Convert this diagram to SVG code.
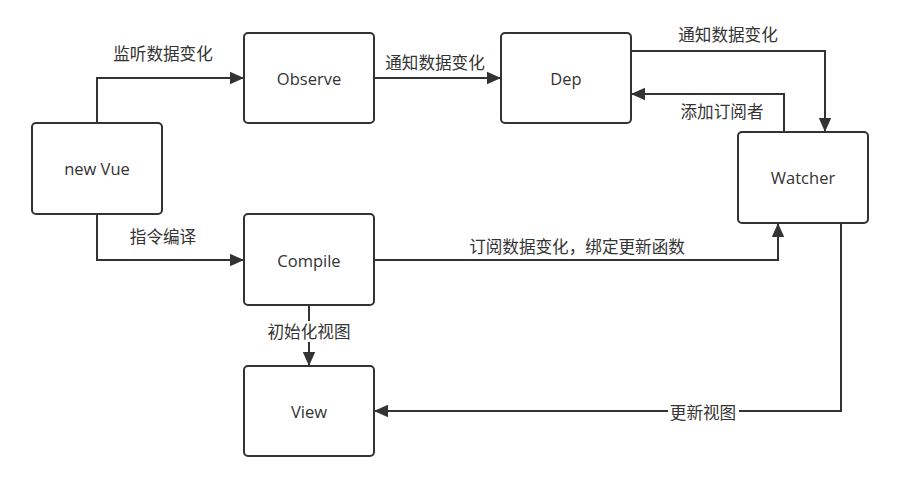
<svg xmlns="http://www.w3.org/2000/svg" width="901" height="490" viewBox="0 0 901 490">
<style>
.node rect{fill:#fff;stroke:#333;stroke-width:2}
.node text{font-family:"Open Sans","Noto Sans","Noto Sans CJK SC",sans-serif;font-size:16.5px;fill:#333;text-anchor:middle;dominant-baseline:central}
.edge{fill:none;stroke:#333;stroke-width:2}
.lbl{font-family:"Noto Sans CJK SC","Noto Sans",sans-serif;font-size:16.6px;fill:#333;text-anchor:middle;dominant-baseline:central}
.bg{fill:#fff}
</style>
<defs>
<marker id="arr" markerUnits="userSpaceOnUse" markerWidth="16" markerHeight="14" refX="14" refY="7" orient="auto">
<path d="M0,0.8 L14,7 L0,13.2 Z" fill="#333"/>
</marker>
</defs>
<rect width="901" height="490" fill="#fff"/>
<g id="connectors">
<path class="edge" d="M97,123 V78 H244" marker-end="url(#arr)"/>
<path class="edge" d="M97,214 V260 H244" marker-end="url(#arr)"/>
<path class="edge" d="M374,78 H501" marker-end="url(#arr)"/>
<path class="edge" d="M631,51 H825 V132" marker-end="url(#arr)"/>
<path class="edge" d="M784,132 V94 H631" marker-end="url(#arr)"/>
<path class="edge" d="M374,260 H778 V223" marker-end="url(#arr)"/>
<path class="edge" d="M309,305 V366" marker-end="url(#arr)"/>
<path class="edge" d="M841,223 V411 H374" marker-end="url(#arr)"/>
<text class="lbl" x="163" y="53">监听数据变化</text>
<text class="lbl" x="163" y="236">指令编译</text>
<text class="lbl" x="435" y="62">通知数据变化</text>
<text class="lbl" x="728" y="34">通知数据变化</text>
<text class="lbl" x="722" y="111">添加订阅者</text>
<text class="lbl" x="577" y="246">订阅数据变化，绑定更新函数</text>
<rect class="bg" x="265" y="321" width="88" height="21"/>
<text class="lbl" x="309" y="331">初始化视图</text>
<rect class="bg" x="668" y="402" width="71" height="20"/>
<text class="lbl" x="703" y="412">更新视图</text>
</g>
<g id="new-vue" class="node"><rect x="32" y="123" width="130" height="91" rx="4"/><text x="97" y="168.5">new Vue</text></g>
<g id="observe" class="node"><rect x="244" y="33" width="130" height="90" rx="4"/><text x="309" y="78">Observe</text></g>
<g id="dep" class="node"><rect x="501" y="33" width="130" height="90" rx="4"/><text x="566" y="78">Dep</text></g>
<g id="watcher" class="node"><rect x="738" y="132" width="130" height="91" rx="4"/><text x="803" y="177.5">Watcher</text></g>
<g id="compile" class="node"><rect x="244" y="214" width="130" height="91" rx="4"/><text x="309" y="260">Compile</text></g>
<g id="view" class="node"><rect x="244" y="366" width="130" height="90" rx="4"/><text x="309" y="411">View</text></g>
</svg>
